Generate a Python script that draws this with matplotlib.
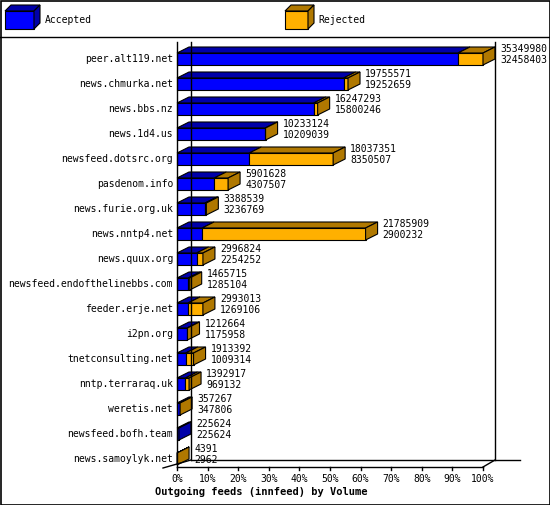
import matplotlib
matplotlib.use("Agg")
import matplotlib.pyplot as plt
from matplotlib.patches import Polygon, Rectangle

hosts = ["peer.alt119.net", "news.chmurka.net", "news.bbs.nz", "news.1d4.us",
         "newsfeed.dotsrc.org", "pasdenom.info", "news.furie.org.uk", "news.nntp4.net",
         "news.quux.org", "newsfeed.endofthelinebbs.com", "feeder.erje.net", "i2pn.org",
         "tnetconsulting.net", "nntp.terraraq.uk", "weretis.net", "newsfeed.bofh.team",
         "news.samoylyk.net"]
offered = [35349980, 19755571, 16247293, 10233124, 18037351, 5901628, 3388539, 21785909,
           2996824, 1465715, 2993013, 1212664, 1913392, 1392917, 357267, 225624, 4391]
accepted = [32458403, 19252659, 15800246, 10209039, 8350507, 4307507, 3236769, 2900232,
            2254252, 1285104, 1269106, 1175958, 1009314, 969132, 347806, 225624, 2962]
ticks = list(range(0, 101, 10))

BLUE, BLUE_D = "#0000ff", "#0000a8"
ORANGE, ORANGE_D = "#ffb000", "#b07800"
FONT = "DejaVu Sans Mono"
FS = 7

W, H = 550, 505
fig = plt.figure(figsize=(W / 100, H / 100), dpi=100)
ax = fig.add_axes([0, 0, 1, 1])
ax.set_xlim(0, W)
ax.set_ylim(H, 0)
ax.axis("off")

X0, X1 = 177, 483      # 0% and 100% on the front plane
DX, DY = 12, 6         # 3d depth
Y_TOP, Y_BOT = 42, 467
ROW0, ROWSTEP, BH = 59, 25, 12
vmax = max(offered)


def xpos(v):
    return X0 + v / vmax * (X1 - X0)


def box(x0, x1, yc, face, dark, side=True):
    yt, yb = yc - BH / 2, yc + BH / 2
    ax.add_patch(Polygon([(x0, yt), (x0 + DX, yt - DY), (x1 + DX, yt - DY), (x1, yt)],
                         closed=True, fc=dark, ec="black", lw=0.8))
    ax.add_patch(Rectangle((x0, yt), x1 - x0, BH, fc=face, ec="black", lw=0.8))
    if side:
        ax.add_patch(Polygon([(x1, yt), (x1 + DX, yt - DY), (x1 + DX, yb - DY), (x1, yb)],
                             closed=True, fc=dark, ec="black", lw=0.8))


# frame and legend
ax.add_patch(Rectangle((0.5, 0.5), W - 1, H - 1, fc="white", ec="black", lw=1.2))
ax.plot([0, W], [37, 37], color="black", lw=1)
ax.add_patch(Polygon([(5, 11), (11, 5), (40, 5), (34, 11)], fc=BLUE_D, ec="black", lw=0.8))
ax.add_patch(Rectangle((5, 11), 29, 18, fc=BLUE, ec="black", lw=0.8))
ax.add_patch(Polygon([(34, 11), (40, 5), (40, 23), (34, 29)], fc=BLUE_D, ec="black", lw=0.8))
ax.text(45, 20, "Accepted", fontsize=FS, family=FONT, va="center")
ax.add_patch(Polygon([(285, 11), (291, 5), (314, 5), (308, 11)], fc=ORANGE_D, ec="black", lw=0.8))
ax.add_patch(Rectangle((285, 11), 23, 18, fc=ORANGE, ec="black", lw=0.8))
ax.add_patch(Polygon([(308, 11), (314, 5), (314, 23), (308, 29)], fc=ORANGE_D, ec="black", lw=0.8))
ax.text(318, 20, "Rejected", fontsize=FS, family=FONT, va="center")

# axes (3d box)
ax.plot([X0 + DX + 2, X0 + DX + 2], [Y_TOP, Y_BOT - DY - 1], color="black", lw=1)
ax.plot([X1 + DX, X1 + DX], [Y_TOP, Y_BOT - DY - 1], color="black", lw=1)
ax.plot([X0 + DX + 2, X1 + DX + 25], [Y_BOT - DY - 1, Y_BOT - DY - 1], color="black", lw=1)
ax.plot([X0, X0], [Y_TOP, Y_BOT], color="black", lw=1)
ax.plot([X0 - 14, X0 + DX + 2], [Y_BOT + 1, Y_BOT - DY - 1], color="black", lw=1)
ax.plot([X0, X1], [Y_BOT, Y_BOT], color="black", lw=1)
ax.plot([X1, X1 + DX], [Y_BOT, Y_BOT - DY - 1], color="black", lw=1)
for t in ticks:
    x = X0 + t / 100 * (X1 - X0)
    ax.plot([x, x], [Y_BOT, Y_BOT + 3], color="black", lw=1)
    ax.text(x, Y_BOT + 12, f"{t}%", fontsize=FS, family=FONT, ha="center", va="center")
ax.text(155, 492, "Outgoing feeds (innfeed) by Volume", fontsize=7.5, family=FONT,
        weight="bold", va="center")

# bars
for i, (h, off, acc) in enumerate(zip(hosts, offered, accepted)):
    yc = ROW0 + i * ROWSTEP
    xa, xo = xpos(acc), xpos(off)
    rej = off > acc
    box(X0, xa, yc, BLUE, BLUE_D, side=not rej)
    if rej:
        box(xa, xo, yc, ORANGE, ORANGE_D)
    ax.text(X0 - 4, yc, h, fontsize=FS, family=FONT, ha="right", va="center")
    xl = max(xo, X0) + DX + 5
    ax.text(xl, yc - 10, str(off), fontsize=FS, family=FONT, va="center")
    ax.text(xl, yc + 1, str(acc), fontsize=FS, family=FONT, va="center")

fig.savefig("out.png", dpi=100)
